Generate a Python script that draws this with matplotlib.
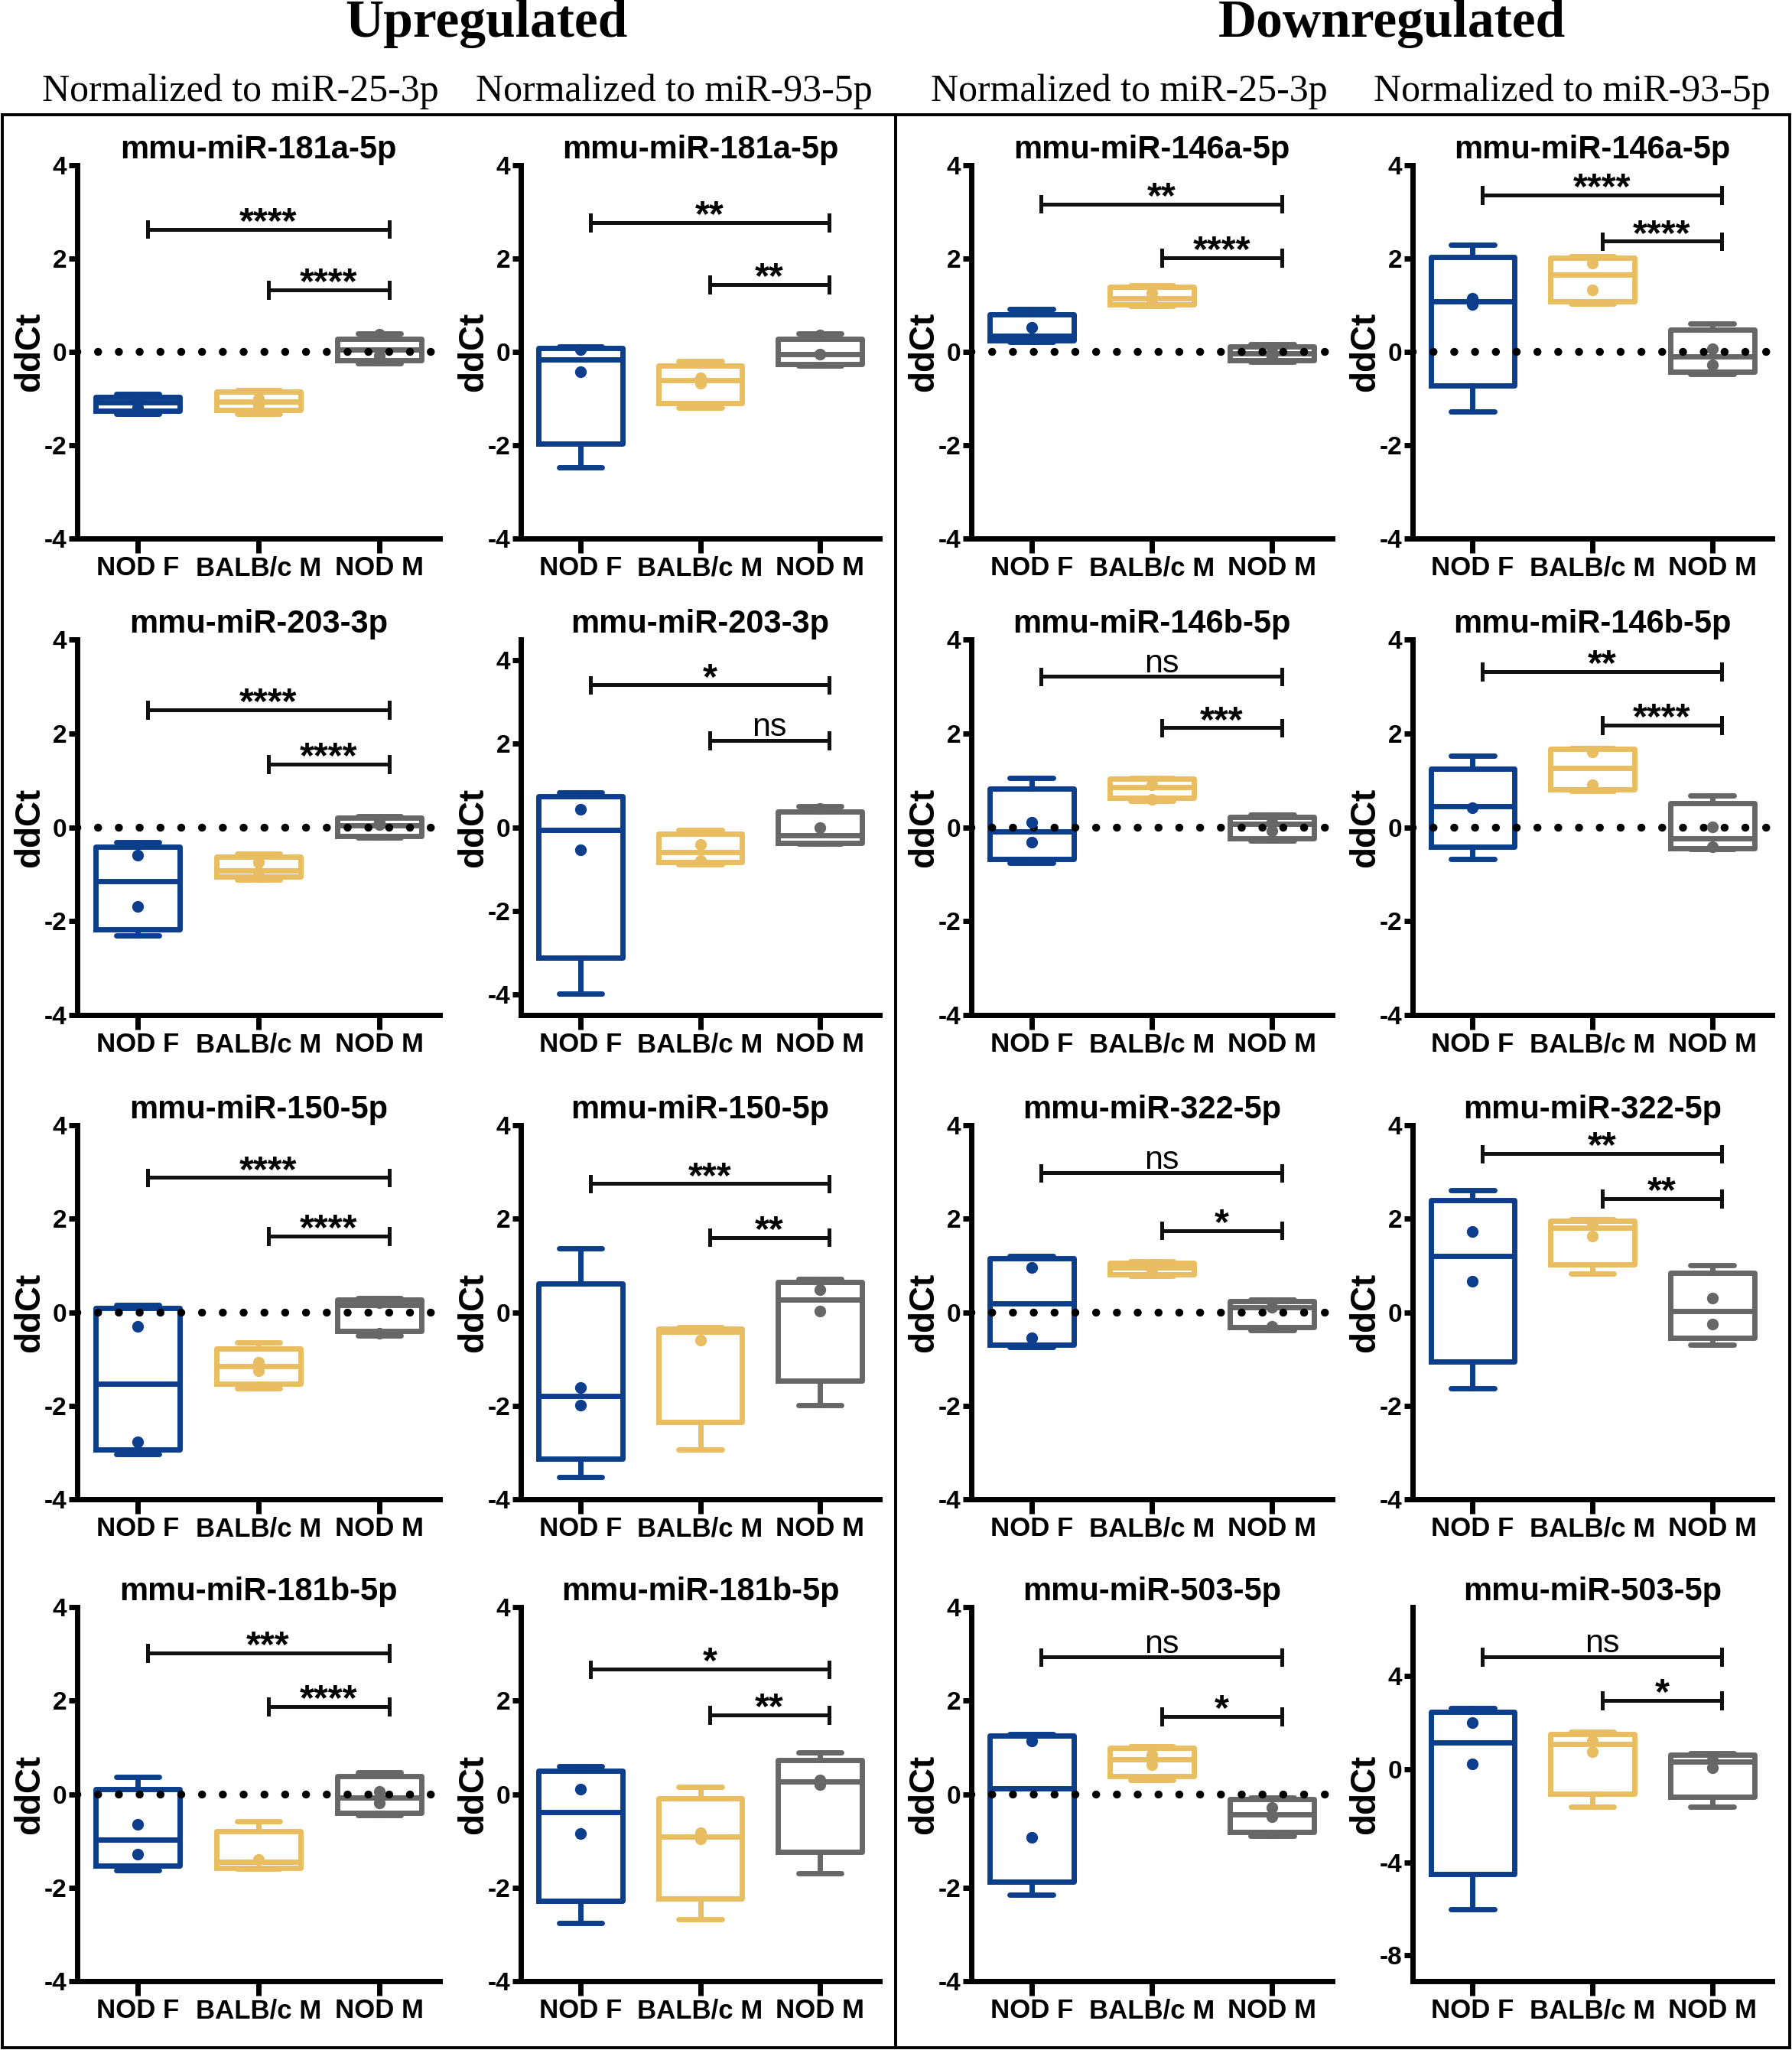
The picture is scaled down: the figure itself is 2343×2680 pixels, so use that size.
import matplotlib
matplotlib.use("Agg")
import matplotlib.pyplot as plt
from matplotlib.patches import Rectangle

W, H = 2343, 2680
plt.rcParams['font.family'] = 'Liberation Sans'
plt.rcParams['axes.unicode_minus'] = False

# --- data ---
GROUPS = ["NOD F", "BALB/c M", "NOD M"]
COLORS = ["#0C3E8B", "#E9BE62", "#676767"]

# panels in row-major order: cols = up/25-3p, up/93-5p, down/25-3p, down/93-5p
TITLES = [
    "mmu-miR-181a-5p", "mmu-miR-181a-5p", "mmu-miR-146a-5p", "mmu-miR-146a-5p",
    "mmu-miR-203-3p", "mmu-miR-203-3p", "mmu-miR-146b-5p", "mmu-miR-146b-5p",
    "mmu-miR-150-5p", "mmu-miR-150-5p", "mmu-miR-322-5p", "mmu-miR-322-5p",
    "mmu-miR-181b-5p", "mmu-miR-181b-5p", "mmu-miR-503-5p", "mmu-miR-503-5p",
]

# box stats per panel, per group [NOD F, BALB/c M, NOD M]
WHISLO = [
    [-1.33, -1.33, -0.25], [-2.48, -1.20, -0.30], [0.21, 0.99, -0.21], [-1.28, 1.03, -0.47],
    [-2.31, -1.11, -0.22], [-3.99, -0.88, -0.40], [-0.75, 0.56, -0.29], [-0.68, 0.78, -0.46],
    [-3.03, -1.63, -0.50], [-3.53, -2.93, -1.99], [-0.75, 0.78, -0.39], [-1.63, 0.83, -0.69],
    [-1.63, -1.60, -0.45], [-2.75, -2.67, -1.69], [-2.15, 0.31, -0.89], [-6.02, -1.63, -1.61],
]
Q1 = [
    [-1.27, -1.25, -0.18], [-1.97, -1.10, -0.26], [0.24, 1.01, -0.18], [-0.72, 1.09, -0.42],
    [-2.17, -1.05, -0.18], [-3.12, -0.84, -0.37], [-0.67, 0.62, -0.24], [-0.42, 0.81, -0.44],
    [-2.93, -1.53, -0.40], [-3.14, -2.35, -1.47], [-0.69, 0.81, -0.32], [-1.05, 1.03, -0.55],
    [-1.53, -1.58, -0.40], [-2.28, -2.23, -1.23], [-1.87, 0.38, -0.81], [-4.49, -1.07, -1.20],
]
MED = [
    [-1.08, -1.06, 0.05], [-0.17, -0.60, -0.05], [0.35, 1.15, -0.04], [1.09, 1.66, -0.10],
    [-1.15, -0.92, 0.04], [-0.06, -0.60, -0.20], [-0.09, 0.85, 0.07], [0.45, 1.27, -0.23],
    [-1.53, -1.15, 0.15], [-1.79, -0.42, 0.27], [0.19, 0.95, 0.10], [1.21, 1.81, 0.03],
    [-0.97, -1.45, -0.08], [-0.39, -0.90, 0.27], [0.13, 0.75, -0.43], [1.14, 1.07, 0.33],
]
Q3 = [
    [-0.97, -0.86, 0.28], [0.08, -0.29, 0.28], [0.81, 1.39, 0.12], [2.04, 2.02, 0.48],
    [-0.42, -0.62, 0.20], [0.74, -0.15, 0.37], [0.82, 1.04, 0.22], [1.25, 1.67, 0.51],
    [0.09, -0.77, 0.27], [0.61, -0.35, 0.65], [1.15, 1.05, 0.23], [2.39, 1.95, 0.85],
    [0.11, -0.80, 0.39], [0.50, -0.09, 0.73], [1.25, 0.99, -0.10], [2.44, 1.51, 0.60],
]
WHISHI = [
    [-0.90, -0.82, 0.40], [0.11, -0.20, 0.40], [0.91, 1.43, 0.16], [2.30, 2.05, 0.60],
    [-0.31, -0.56, 0.24], [0.83, -0.06, 0.50], [1.05, 1.05, 0.27], [1.52, 1.69, 0.67],
    [0.15, -0.65, 0.31], [1.36, -0.32, 0.71], [1.21, 1.08, 0.27], [2.61, 1.98, 1.00],
    [0.37, -0.58, 0.47], [0.60, 0.15, 0.89], [1.28, 1.03, -0.07], [2.61, 1.61, 0.67],
]
# individual points visible inside the boxes
POINTS = [
    [[-1.05, -1.20], [-1.00, -1.15], [-0.09, 0.37]],
    [[0.05, -0.42], [-0.55, -0.68], [0.36, -0.05]],
    [[0.52, 0.30], [1.27, 1.05], [0.00, -0.10]],
    [[1.15, 1.02], [1.90, 1.33], [0.07, -0.28]],
    [[-0.60, -1.69], [-0.74, -0.95], [0.05, 0.10]],
    [[0.43, -0.54], [-0.41, -0.80], [0.00, 0.45]],
    [[0.11, -0.31], [0.91, 0.60], [0.10, -0.07]],
    [[0.41], [1.60, 0.90], [0.01, -0.42]],
    [[-0.31, -2.77], [-1.07, -1.25], [0.20, -0.45]],
    [[-1.61, -1.99], [-0.59], [0.49, 0.03]],
    [[0.96, -0.55], [0.90], [0.10, -0.30]],
    [[1.73, 0.66], [1.63, 1.88], [0.30, -0.25]],
    [[-0.65, -1.28], [-1.40], [0.05, -0.19]],
    [[0.10, -0.85], [-0.83, -0.95], [0.30, 0.21]],
    [[1.13, -0.92], [0.63, 0.85], [-0.29, -0.49]],
    [[2.01, 0.23], [1.20, 0.76], [0.07, 0.40]],
]
# significance: (NOD F vs NOD M, BALB/c M vs NOD M)
SIG_Y = [
    [2.63, 1.33], [2.77, 1.44], [3.17, 2.02], [3.36, 2.37],
    [2.50, 1.34], [3.41, 2.08], [3.21, 2.12], [3.32, 2.18],
    [2.88, 1.63], [2.75, 1.60], [2.98, 1.75], [3.39, 2.43],
    [3.02, 1.87], [2.67, 1.69], [2.93, 1.66], [4.82, 2.95],
]
SIG_LABELS = [
    ["****", "****"], ["**", "**"], ["**", "****"], ["****", "****"],
    ["****", "****"], ["*", "ns"], ["ns", "***"], ["**", "****"],
    ["****", "****"], ["***", "**"], ["ns", "*"], ["**", "**"],
    ["***", "****"], ["*", "**"], ["ns", "*"], ["ns", "*"],
]
ZERO_LINE = [True, False, True, True, True, False, True, True,
             True, False, True, False, True, False, True, False]
YLIMS = {5: (-4.5, 4.5), 15: (-9.1, 6.95)}
YTICKS = {15: [-8, -4, 0, 4]}

COL_HEADERS = ["Normalized to miR-25-3p", "Normalized to miR-93-5p",
               "Normalized to miR-25-3p", "Normalized to miR-93-5p"]

# --- layout (pixels) ---
COL_X = [(101, 575), (681, 1150), (1270, 1742), (1847, 2317)]
ROW_Y = [(216, 704), (836, 1327), (1471, 1960), (2101, 2590)]
HEAD_X = [314, 881, 1476, 2055]
LW = 5.0


def rect(x0, x1, y0, y1):
    return [x0 / W, 1 - y1 / H, (x1 - x0) / W, (y1 - y0) / H]


fig = plt.figure(figsize=(W / 100, H / 100), dpi=100, facecolor='white')

for i in range(16):
    r, c = divmod(i, 4)
    ax = fig.add_axes(rect(*COL_X[c], *ROW_Y[r]))
    stats = [dict(whislo=WHISLO[i][g], q1=Q1[i][g], med=MED[i][g],
                  q3=Q3[i][g], whishi=WHISHI[i][g]) for g in range(3)]
    bp = ax.bxp(stats, positions=[0, 1, 2], widths=0.7, capwidths=0.36,
                showfliers=False,
                boxprops=dict(lw=LW), whiskerprops=dict(lw=LW),
                capprops=dict(lw=LW), medianprops=dict(lw=LW))
    for g in range(3):
        bp['boxes'][g].set_color(COLORS[g])
        bp['medians'][g].set_color(COLORS[g])
        for k in (2 * g, 2 * g + 1):
            bp['whiskers'][k].set_color(COLORS[g])
            bp['caps'][k].set_color(COLORS[g])
            bp['caps'][k].set_solid_capstyle('round')
        ax.plot([g] * len(POINTS[i][g]), POINTS[i][g], 'o', ms=10,
                color=COLORS[g], zorder=5)

    ylo, yhi = YLIMS.get(i, (-4, 4))
    ax.set_ylim(ylo, yhi)
    ax.set_yticks(YTICKS.get(i, [-4, -2, 0, 2, 4]))
    ax.set_xlim(-0.5, 2.5)
    ax.set_xticks([0, 1, 2])
    ax.set_xticklabels(GROUPS)

    if ZERO_LINE[i]:
        ax.axhline(0, color='black', lw=7.5, ls=(0, (0.01, 2.6)),
                   dash_capstyle='round', zorder=4)

    # significance bars
    cap = 0.02 * (yhi - ylo)
    for (start, y, lab) in zip([0, 1], SIG_Y[i], SIG_LABELS[i]):
        x0, x1 = start + 0.08, 2.08
        ax.plot([x0, x1], [y, y], color='#111111', lw=3.6)
        ax.plot([x0, x0], [y - cap, y + cap], color='#111111', lw=3.6)
        ax.plot([x1, x1], [y - cap, y + cap], color='#111111', lw=3.6)
        if lab == 'ns':
            ax.annotate(lab, ((x0 + x1) / 2, y), xytext=(0, 4),
                        textcoords='offset points', ha='center',
                        va='baseline', fontsize=31)
        else:
            ax.annotate(lab, ((x0 + x1) / 2, y), xytext=(0, -3),
                        textcoords='offset points', ha='center',
                        va='baseline', fontsize=35, fontweight='bold')

    for s in ('top', 'right'):
        ax.spines[s].set_visible(False)
    for s in ('left', 'bottom'):
        ax.spines[s].set_linewidth(LW)
    ax.tick_params(axis='y', direction='out', length=8, width=LW,
                   labelsize=24, pad=2)
    ax.tick_params(axis='x', direction='out', length=14, width=LW,
                   labelsize=25, pad=2)
    for lbl in ax.get_xticklabels() + ax.get_yticklabels():
        lbl.set_fontweight('bold')

    ax.set_title(TITLES[i], fontsize=30, fontweight='bold', pad=1)
    ax.set_ylabel('ddCt', fontsize=33, fontweight='bold')
    ax.yaxis.set_label_coords(-0.085, 0.5)

# headers
fig.text(636 / W, 1 - 48 / H, 'Upregulated', ha='center', va='baseline',
         family='Liberation Serif', fontweight='bold', fontsize=50)
fig.text(1820 / W, 1 - 48 / H, 'Downregulated', ha='center', va='baseline',
         family='Liberation Serif', fontweight='bold', fontsize=50)
for x, t in zip(HEAD_X, COL_HEADERS):
    fig.text(x / W, 1 - 132 / H, t, ha='center', va='baseline',
             family='Liberation Serif', fontsize=36)

# outer frames
for x0, x1 in [(3, 1171), (1171, 2340)]:
    fig.add_artist(Rectangle((x0 / W, 1 - 2677 / H), (x1 - x0) / W,
                             (2677 - 150) / H, transform=fig.transFigure,
                             fill=False, lw=2.8, edgecolor='black'))

fig.savefig('out.png', dpi=100, facecolor='white')
